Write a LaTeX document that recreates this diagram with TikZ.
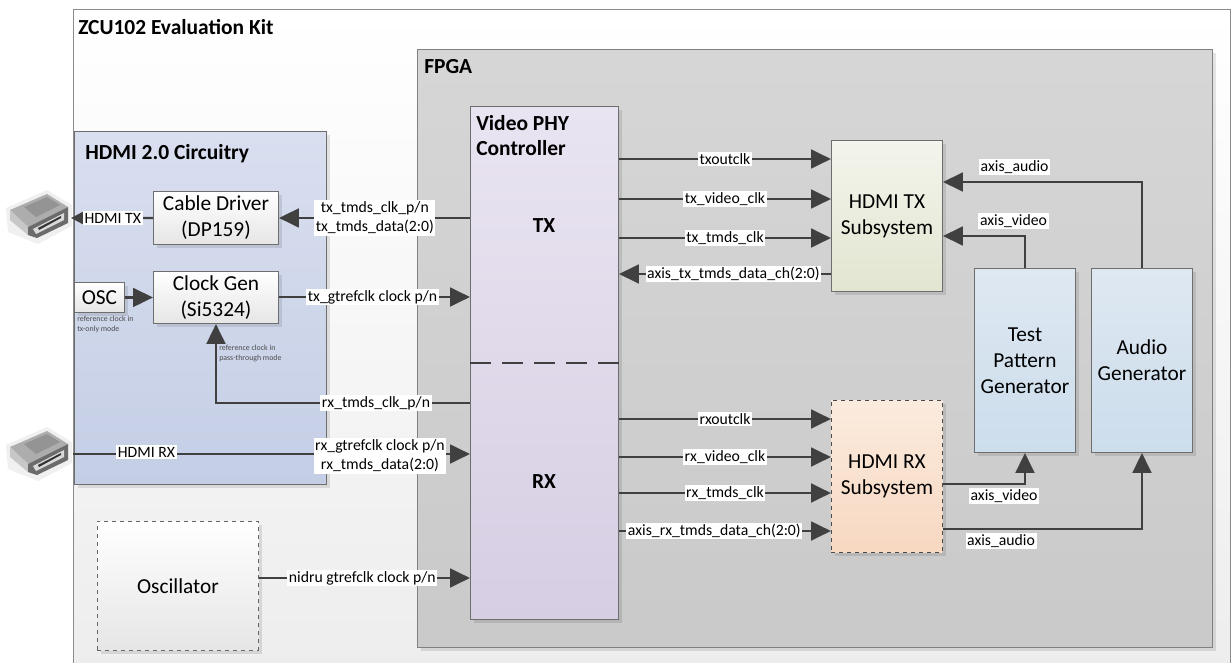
\documentclass[tikz,border=0pt]{standalone}
\usepackage{fontspec}
\setmainfont{Carlito}
\usetikzlibrary{arrows.meta,shadows}
\definecolor{wirecol}{HTML}{404040}
\definecolor{edgecol}{HTML}{6E6E6E}
\tikzset{
  wire/.style={line width=2.2pt,draw=wirecol,-{Triangle[length=15pt,width=14pt]}},
  plainwire/.style={line width=2.2pt,draw=wirecol},
  lbl/.style={fill=white,inner sep=1.2pt,font=\fontsize{11.8}{14.4}\selectfont,align=center},
  tinylbl/.style={anchor=north west,inner sep=0pt,text=black!70,font=\fontsize{5.9}{7.3}\selectfont,align=left},
  title/.style={anchor=west,inner sep=0pt,font=\fontsize{16.1}{18.8}\selectfont\bfseries,align=left},
  blk/.style={draw=edgecol,line width=0.7pt,anchor=north west,inner sep=0pt,align=center,
    font=\fontsize{16}{19.5}\selectfont,
    drop shadow={shadow xshift=3pt,shadow yshift=-3pt,fill=black,opacity=0.10}},
  whitebox/.style={blk,top color=white,bottom color=black!10},
  port/.pic={
    \fill[black!6] (6,208) -- (47,190) -- (72,205) -- (72,226) -- (38,244) -- (8,232) -- cycle;
    \fill[black!32] (10,210) -- (47,194) -- (68,207) -- (28,227) -- cycle;
    \fill[black!42] (24,207) -- (47,197) -- (60,205) -- (36,217) -- cycle;
    \fill[black!22] (10,210) -- (28,227) -- (28,235) -- (10,220) -- cycle;
    \fill[black!58] (28,227) -- (68,207) -- (68,223) -- (37,238) -- (28,235) -- cycle;
    \fill[black!15] (33,229) -- (64,213) -- (64,220) -- (36,234) -- cycle;
    \fill[black!80] (38,228) -- (61,216) -- (61,218) -- (39,230) -- cycle;
  }
}
\begin{document}
\begin{tikzpicture}[x=0.75pt,y=-0.75pt]
  \useasboundingbox (0,0) rectangle (1231,663);
  \clip (0,0) rectangle (1231,663);
  % outer boards
  \node[blk,top color=white,bottom color=black!7,draw=black!45,drop shadow={opacity=0},minimum width=1157*0.75pt,minimum height=660*0.75pt] (kit) at (73,9) {};
  \node[blk,top color=black!16,bottom color=black!21,draw=black!50,minimum width=795*0.75pt,minimum height=598*0.75pt] (fpga) at (417,49) {};
  \node[blk,minimum width=252*0.75pt,minimum height=353*0.75pt,top color={rgb,255:red,217;green,223;blue,239},bottom color={rgb,255:red,196;green,206;blue,229}] (hdmibox) at (74,131) {};
  \node[blk,minimum width=148*0.75pt,minimum height=513*0.75pt,top color={rgb,255:red,233;green,228;blue,241},bottom color={rgb,255:red,214;green,206;blue,227}] (phy) at (470,106) {};
  % blocks
  \node[whitebox,minimum width=125*0.75pt,minimum height=53*0.75pt] (driver) at (153,191) {Cable Driver\\(DP159)};
  \node[whitebox,minimum width=125*0.75pt,minimum height=52*0.75pt] (clkgen) at (153,271) {Clock Gen\\(Si5324)};
  \node[whitebox,minimum width=50*0.75pt,minimum height=30*0.75pt] (osc) at (74,282) {OSC};
  \node[whitebox,dashed,draw=black!60,minimum width=161*0.75pt,minimum height=129*0.75pt,drop shadow={opacity=0}] (oscillator) at (97,521) {Oscillator};
  \node[blk,minimum width=111*0.75pt,minimum height=151*0.75pt,top color={rgb,255:red,243;green,245;blue,236},bottom color={rgb,255:red,226;green,229;blue,208}] (hdmitx) at (831,140) {HDMI TX\\Subsystem};
  \node[blk,dashed,draw=black!70,minimum width=111*0.75pt,minimum height=152*0.75pt,top color={rgb,255:red,251;green,235;blue,222},bottom color={rgb,255:red,247;green,216;blue,193}] (hdmirx) at (831,400) {HDMI RX\\Subsystem};
  \node[blk,minimum width=101*0.75pt,minimum height=184*0.75pt,top color={rgb,255:red,222;green,232;blue,241},bottom color={rgb,255:red,204;green,221;blue,236}] (testgen) at (974,268) {Test\\Pattern\\Generator};
  \node[blk,minimum width=101*0.75pt,minimum height=184*0.75pt,top color={rgb,255:red,222;green,232;blue,241},bottom color={rgb,255:red,204;green,221;blue,236}] (audiogen) at (1091,268) {Audio\\Generator};
  % connectors
  \pic at (0,0) {port};
  \pic at (0,237) {port};
  \coordinate (porttx) at (71,218);
  \coordinate (portrx) at (73,454);
  \draw[wire] (phy.west |- driver) -- node[lbl,pos=0.498] (txdatalbl) {tx\_tmds\_clk\_p/n\\tx\_tmds\_data(2:0)} (driver.east);
  \draw[plainwire,line width=1.8pt,-{Triangle[length=9pt,width=9pt]}] (driver.west) -- node[lbl,pos=0.49] (hdmitxlbl) {HDMI TX} (porttx);
  \draw[wire] (osc.east) -- (clkgen.west |- osc);
  \draw[wire] (clkgen.east |- 0,297) -- node[lbl,pos=0.49] (gtreflbl) {tx\_gtrefclk clock p/n} (phy.west |- 0,297);
  \draw[wire] (phy.west |- 0,403) -- node[lbl,pos=0.37] (rxclklbl) {rx\_tmds\_clk\_p/n} (clkgen.south |- 0,403) -- (clkgen.south);
  \draw[wire] (portrx) -- node[lbl,pos=0.185,yshift=1.5pt] (hdmirxlbl) {HDMI RX} node[lbl,pos=0.773,yshift=-1.5pt] (rxdatalbl) {rx\_gtrefclk clock p/n\\rx\_tmds\_data(2:0)} (phy.west |- portrx);
  \draw[wire] (oscillator.east |- 0,578) -- node[lbl,pos=0.49] (nidrulbl) {nidru gtrefclk clock p/n} (phy.west |- 0,578);
  \draw[wire] (phy.east |- 0,159) -- node[lbl,pos=0.50] (txoutlbl) {txoutclk} (hdmitx.west |- 0,159);
  \draw[wire] (phy.east |- 0,199) -- node[lbl,pos=0.50] (txvidlbl) {tx\_video\_clk} (hdmitx.west |- 0,199);
  \draw[wire] (phy.east |- 0,238) -- node[lbl,pos=0.50] (txtmdslbl) {tx\_tmds\_clk} (hdmitx.west |- 0,238);
  \draw[wire] (hdmitx.west |- 0,274) -- node[lbl,pos=0.46] (txaxislbl) {axis\_tx\_tmds\_data\_ch(2:0)} (phy.east |- 0,274);
  \draw[wire] (audiogen.north) -- (audiogen.north |- 0,182) -- node[lbl,pos=0.64,yshift=15*0.75pt] (txaudiolbl) {axis\_audio} (hdmitx.east |- 0,182);
  \draw[wire] (testgen.north) -- (testgen.north |- 0,236) -- node[lbl,pos=0.14,yshift=15*0.75pt] (txvideolbl) {axis\_video} (hdmitx.east |- 0,236);
  \draw[wire] (phy.east |- 0,419) -- node[lbl,pos=0.50] (rxoutlbl) {rxoutclk} (hdmirx.west |- 0,419);
  \draw[wire] (phy.east |- 0,457) -- node[lbl,pos=0.50] (rxvidlbl) {rx\_video\_clk} (hdmirx.west |- 0,457);
  \draw[wire] (phy.east |- 0,493) -- node[lbl,pos=0.50] (rxtmdslbl) {rx\_tmds\_clk} (hdmirx.west |- 0,493);
  \draw[wire] (phy.east |- 0,531) -- node[lbl,pos=0.45] (rxaxislbl) {axis\_rx\_tmds\_data\_ch(2:0)} (hdmirx.west |- 0,531);
  \draw[wire] (hdmirx.east |- 0,484) -- (testgen.south |- 0,484) -- (testgen.south);
  \draw[wire] (hdmirx.east |- 0,529) -- (audiogen.south |- 0,529) -- (audiogen.south);
  \draw[line width=1.8pt,draw=wirecol,dash pattern=on 15.5pt off 8.5pt] (phy.west |- 0,363) -- (phy.east |- 0,363);
  % text
  \node[lbl] (rxvideolbl) at (1004,496) {axis\_video};
  \node[lbl] (rxaudiolbl) at (1001,541) {axis\_audio};
  \node[title] (kitlbl) at (78,27) {ZCU102 Evaluation Kit};
  \node[title] (fpgalbl) at (424,67) {FPGA};
  \node[title] (hdmilbl) at (85,154) {HDMI 2.0 Circuitry};
  \node[title] (phylbl) at (476,136) {Video PHY\\Controller};
  \node[title,anchor=center] (txlbl) at (544,226) {TX};
  \node[title,anchor=center] (rxlbl) at (544,482) {RX};
  \node[tinylbl] (oscnote) at (77,316) {reference clock in\\tx-only mode};
  \node[tinylbl] (clknote) at (219,345) {reference clock in\\pass-through mode};
\end{tikzpicture}
\end{document}
